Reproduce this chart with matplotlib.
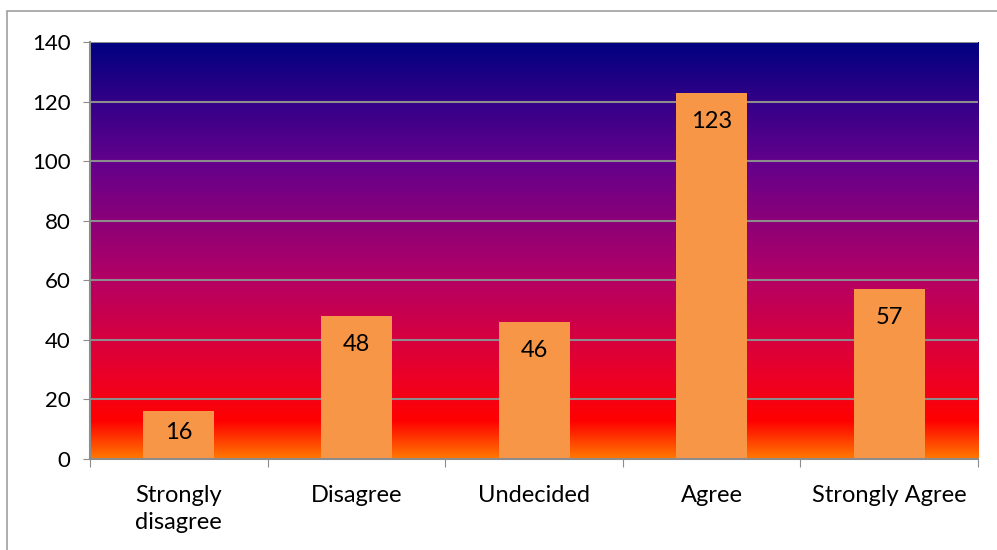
import numpy as np
import matplotlib
matplotlib.use("Agg")
import matplotlib.pyplot as plt
from matplotlib.colors import LinearSegmentedColormap
from matplotlib.patches import Rectangle

# survey responses
categories = ["Strongly\ndisagree", "Disagree", "Undecided", "Agree", "Strongly Agree"]
counts = [16, 48, 46, 123, 57]
y_ticks = [0, 20, 40, 60, 80, 100, 120, 140]

plt.rcParams['font.family'] = ['Lato', 'DejaVu Sans']

fig = plt.figure(figsize=(9.97, 5.5), dpi=100)
ax = fig.add_axes([0.0903, 0.1655, 0.8907, 0.7581])

# outer chart frame
fig.patches.append(Rectangle((7 / 997, -0.1), 1.2, 1 - 11 / 550 + 0.1,
                             transform=fig.transFigure, fill=False,
                             edgecolor='#a0a0a0', linewidth=1.2))

# background gradient: orange at bottom -> red -> purple -> navy at top
stops = [(0.0, (255, 120, 0)), (0.09, (255, 0, 0)), (0.2, (235, 0, 40)),
         (0.43, (180, 0, 100)), (0.57, (140, 0, 120)), (0.71, (100, 0, 140)),
         (0.86, (50, 0, 135)), (1.0, (0, 0, 128))]
grad_cmap = LinearSegmentedColormap.from_list(
    'bg', [(p, tuple(c / 255 for c in rgb)) for p, rgb in stops])
grad = np.linspace(0, 1, 256).reshape(-1, 1)
ax.imshow(grad, cmap=grad_cmap, aspect='auto', origin='lower',
          extent=[0, 1, 0, 1], transform=ax.transAxes, zorder=0)

x = np.arange(len(categories))
ax.set_xlim(-0.5, len(categories) - 0.5)
ax.set_ylim(0, 140)

for yv in y_ticks[1:]:
    ax.axhline(yv, color='#8c8c8c', linewidth=1.5, zorder=1)

bars = ax.bar(x, counts, width=0.4, color='#F79646', zorder=2)
for b, v in zip(bars, counts):
    # inside end; short bars get the label nearer the middle
    ly = max(v - 9.6, v * 0.56)
    ax.text(b.get_x() + b.get_width() / 2, ly, str(v),
            ha='center', va='center', fontsize=17, color='black', zorder=3)

ax.set_yticks(y_ticks)
ax.tick_params(axis='y', labelsize=16, length=5, color='#8c8c8c', pad=9)
ax.set_xticks(np.arange(-0.5, len(categories)), minor=False)
ax.set_xticklabels([])
ax.set_xticks(x, minor=True)
ax.set_xticklabels(categories, minor=True, fontsize=17, linespacing=1.35)
ax.tick_params(axis='x', which='major', length=6, color='#8c8c8c')
ax.tick_params(axis='x', which='minor', length=0, pad=19)

for s in ['top', 'right']:
    ax.spines[s].set_visible(False)
for s in ['left', 'bottom']:
    ax.spines[s].set_color('#8c8c8c')
    ax.spines[s].set_linewidth(1.5)

fig.savefig("out.png", dpi=100)
